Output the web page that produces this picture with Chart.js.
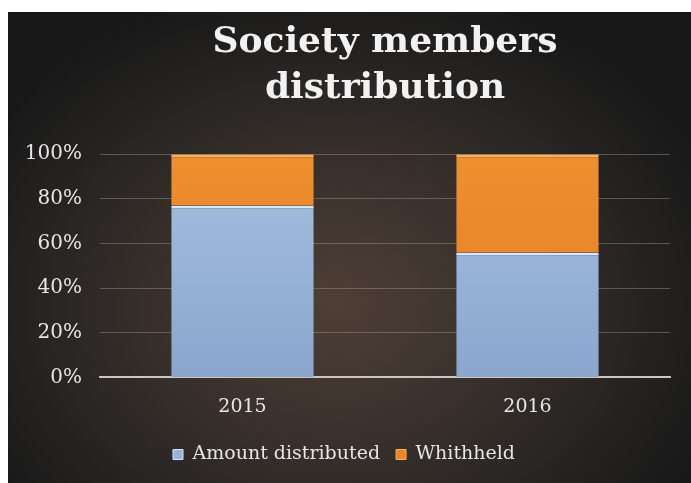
<!DOCTYPE html>
<html>
<head>
<meta charset="utf-8">
<script src="https://cdn.jsdelivr.net/npm/chart.js@4"></script>
<style>
  html, body { margin: 0; padding: 0; background: #fff; }
  #panel {
    position: absolute; left: 8px; top: 12px; width: 683px; height: 471px;
    background: radial-gradient(ellipse 60% 70% at 48% 62%, #4e3f36 0%, #3a312c 40%, #252322 75%, #181818 100%);
  }
  canvas { display: block; }
</style>
</head>
<body>
<div id="panel"><canvas id="chart" width="683" height="471"></canvas></div>
<script>
// data
const years = ['2015', '2016'];
const distributed = [77, 56];
const withheld = [23, 44];
const yTicks = [0, 20, 40, 60, 80, 100];

const serif = "'DejaVu Serif', 'Liberation Serif', serif";

// vertical shading for the bars (lighter at the top edge)
function shade(top, mid, bottom){
  return ctx => {
    const area = ctx.chart.chartArea;
    if(!area) return mid;
    const g = ctx.chart.ctx.createLinearGradient(0, area.top, 0, area.bottom);
    g.addColorStop(0, top);
    g.addColorStop(0.5, mid);
    g.addColorStop(1, bottom);
    return g;
  };
}

new Chart(document.getElementById('chart'), {
  type: 'bar',
  data: {
    labels: years,
    datasets: [
      {
        label: 'Amount distributed',
        data: distributed,
        backgroundColor: shade('#a6bfdf', '#98b3d8', '#8ba6cc'),
        borderColor: '#dbe6f3',
        borderWidth: {top: 3, left: 0, right: 0, bottom: 0},
        borderSkipped: false,
        barPercentage: 0.5,
        categoryPercentage: 1
      },
      {
        label: 'Whithheld',
        data: withheld,
        backgroundColor: shade('#ee8f30', '#e9862a', '#e17e26'),
        borderColor: '#f6b060',
        borderWidth: {top: 3, left: 0, right: 0, bottom: 0},
        borderSkipped: false,
        barPercentage: 0.5,
        categoryPercentage: 1
      }
    ]
  },
  options: {
    responsive: false,
    animation: false,
    layout: {padding: {left: 10, right: 21, top: 0, bottom: 9}},
    plugins: {
      title: {
        display: true,
        fullSize: false,
        text: ['Society members', 'distribution'],
        color: '#f2f2f2',
        font: {family: serif, size: 36, weight: 'bold', lineHeight: 1.28},
        padding: {top: 8, bottom: 42}
      },
      legend: {
        position: 'bottom',
        labels: {
          color: '#e6e6e6',
          font: {family: serif, size: 19},
          boxWidth: 10, boxHeight: 10,
          padding: 16,
          generateLabels: chart => chart.data.datasets.map((ds, i) => ({
            text: ds.label,
            fillStyle: i === 0 ? '#98b3d8' : '#e9862a',
            strokeStyle: i === 0 ? '#dbe6f3' : '#f6b060',
            lineWidth: 1,
            fontColor: '#e6e6e6',
            datasetIndex: i
          }))
        }
      },
      tooltip: {enabled: false}
    },
    scales: {
      x: {
        stacked: true,
        grid: {display: false},
        border: {color: '#cbc6be', width: 2},
        ticks: {color: '#e6e6e6', font: {family: serif, size: 19, lineHeight: 0.4}, padding: 18}
      },
      y: {
        stacked: true,
        min: 0, max: 100,
        afterFit: s => { s.width = 82; },
        afterBuildTicks: s => { s.ticks = yTicks.map(v => ({value: v})); },
        grid: {color: 'rgba(160,150,140,0.45)', lineWidth: 1, drawTicks: false},
        border: {display: false},
        ticks: {
          color: '#e6e6e6',
          font: {family: serif, size: 20},
          padding: 18,
          callback: v => v + '%'
        }
      }
    }
  }
});
</script>
</body>
</html>
